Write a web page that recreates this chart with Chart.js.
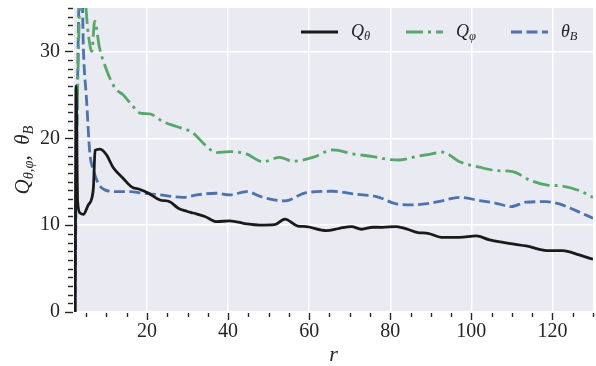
<!DOCTYPE html>
<html lang="en">
<head>
<meta charset="UTF-8">
<title>Q profiles</title>
<script src="https://cdn.jsdelivr.net/npm/chart.js"></script>
<style>
    html, body { margin: 0; padding: 0; background: #fff; }
    canvas { display: block; }
</style>
</head>
<body>
<canvas id="chart" width="596" height="366"></canvas>
<script>
    // values
    const rQtheta = [2.3, 2.5, 2.9, 3.5, 4.3, 5.5, 6.4, 6.8, 7.2, 8.4, 10, 11.7, 14.1, 16.2, 18.3, 20.3, 23.2, 25.6, 27.7, 29.8, 31.4, 34.3, 37.1, 40.4, 44.5, 47.8, 51.5, 54, 57.2, 59.3, 64.2, 67.5, 70.4, 72.9, 75.7, 78, 81.5, 84, 86.8, 89.3, 92.6, 97.1, 101.2, 104.5, 110.2, 113.5, 119.2, 122.5, 126.6, 130];
    const Qtheta  = [0, 26.0, 12.7, 11.4, 11.25, 12.3, 13.1, 14.4, 18.6, 18.75, 18.1, 16.6, 15.4, 14.4, 14.1, 13.7, 12.9, 12.7, 11.95, 11.6, 11.4, 11.0, 10.4, 10.5, 10.15, 10.0, 10.05, 10.7, 9.9, 9.83, 9.37, 9.64, 9.83, 9.53, 9.76, 9.75, 9.83, 9.56, 9.14, 9.06, 8.6, 8.6, 8.76, 8.3, 7.83, 7.6, 7.06, 7.06, 6.57, 6.07];

    const rQphi = [2.3, 3.0, 3.5, 4.5, 5.5, 6.4, 7.1, 8.3, 10, 12.1, 14.1, 16, 18.3, 20.7, 24, 27.3, 31.4, 34.3, 37.1, 40.4, 44.5, 48.6, 52.7, 56, 60.9, 65.9, 70.8, 75.7, 79, 82.3, 86.4, 89.7, 93, 97.1, 102, 106.1, 110.2, 114.3, 118.4, 122.5, 126.6, 130];
    const Qphi  = [10.5, 28, 36, 36.5, 32.1, 30.0, 33.5, 30.4, 27.9, 25.8, 25.0, 24.0, 22.9, 22.8, 21.9, 21.35, 20.6, 19.24, 18.36, 18.47, 18.2, 17.3, 17.8, 17.36, 17.8, 18.66, 18.2, 17.9, 17.6, 17.5, 17.9, 18.16, 18.4, 17.3, 16.67, 16.28, 16.16, 15.2, 14.63, 14.5, 13.97, 13.2];

    const rThetaB = [2.2, 2.7, 3.3, 4.0, 4.3, 5.1, 5.9, 6.75, 8, 9.6, 12.5, 15.8, 19.1, 23.2, 26.5, 28.9, 32.2, 37.1, 40.4, 44.5, 48.6, 54, 59.3, 65.9, 70.8, 75.7, 77.4, 81.5, 85.6, 89.7, 93, 97.1, 102, 106.1, 109.8, 113.5, 118.4, 121.7, 125.8, 130];
    const thetaB  = [0, 20, 36, 36.5, 30.5, 24.4, 18.3, 16.4, 14.8, 14.06, 13.86, 13.86, 13.67, 13.48, 13.28, 13.2, 13.48, 13.67, 13.48, 13.86, 13.2, 12.8, 13.74, 13.9, 13.6, 13.36, 13.17, 12.44, 12.33, 12.52, 12.83, 13.2, 12.83, 12.52, 12.13, 12.64, 12.7, 12.44, 11.67, 10.8];

    const xTicks = [20, 40, 60, 80, 100, 120];
    const yTicks = [0, 10, 20, 30];

    const serif = "'Liberation Serif', 'DejaVu Serif', serif";
    const tickColor = '#262626';

    function pts(xs, ys) {
        return xs.map((x, i) => ({ x: x, y: ys[i] }));
    }

    const series = [
        { data: pts(rQtheta, Qtheta), color: '#1a1a1a', dash: [], label: ['Q', 'θ'] },
        { data: pts(rQphi, Qphi), color: '#55a868', dash: [17, 5, 3, 5], label: ['Q', 'φ'] },
        { data: pts(rThetaB, thetaB), color: '#4c72b0', dash: [11, 4.5], label: ['θ', 'B'] }
    ];

    // draws a run of text pieces: [text, size, italic, dy]
    function drawParts(ctx, parts, x, y) {
        for (const p of parts) {
            ctx.font = (p[2] ? 'italic ' : '') + p[1] + 'px ' + serif;
            ctx.fillText(p[0], x, y + (p[3] || 0));
            x += ctx.measureText(p[0]).width;
        }
        return x;
    }
    function partsWidth(ctx, parts) {
        let w = 0;
        for (const p of parts) {
            ctx.font = (p[2] ? 'italic ' : '') + p[1] + 'px ' + serif;
            w += ctx.measureText(p[0]).width;
        }
        return w;
    }

    const decor = {
        id: 'decor',
        beforeDraw(chart) {
            const a = chart.chartArea, ctx = chart.ctx;
            ctx.save();
            ctx.fillStyle = '#eaeaf2';
            ctx.fillRect(a.left, a.top, a.right - a.left, a.bottom - a.top);
            ctx.restore();
        },
        afterDraw(chart) {
            const a = chart.chartArea, ctx = chart.ctx;
            const xs = chart.scales.x, ys = chart.scales.y;
            ctx.save();
            ctx.strokeStyle = tickColor;
            ctx.lineWidth = 1.4;
            // x ticks, minor every 5
            for (let v = 5; v <= 130; v += 5) {
                const px = Math.round(xs.getPixelForValue(v)) + 0.5;
                const len = v % 20 === 0 ? 7 : 4;
                ctx.beginPath();
                ctx.moveTo(px, a.bottom + 1);
                ctx.lineTo(px, a.bottom + 1 + len);
                ctx.stroke();
            }
            // y ticks, minor every 1
            for (let v = 0; v <= 35; v += 1) {
                const py = Math.round(ys.getPixelForValue(v)) + 0.5;
                const len = v % 10 === 0 ? 8 : 5;
                ctx.beginPath();
                ctx.moveTo(a.left - 1, py);
                ctx.lineTo(a.left - 1 - len, py);
                ctx.stroke();
            }

            // legend
            const ly = 32;
            const starts = [301, 406, 511];
            series.forEach((s, i) => {
                const x0 = starts[i];
                ctx.strokeStyle = s.color;
                ctx.lineWidth = 2.8;
                ctx.setLineDash(s.dash);
                ctx.beginPath();
                ctx.moveTo(x0, ly);
                ctx.lineTo(x0 + 37, ly);
                ctx.stroke();
                ctx.setLineDash([]);
                ctx.fillStyle = tickColor;
                ctx.textBaseline = 'alphabetic';
                drawParts(ctx, [[s.label[0], 18, true, 0], [s.label[1], 12.5, true, 3]], x0 + 50, ly + 5);
            });

            // y title
            ctx.fillStyle = tickColor;
            const yt = [['Q', 21, true, 0], ['θ,φ', 14.5, true, 4], [',  ', 21, false, 0], ['θ', 21, true, 0], ['B', 14.5, true, 4]];
            const w = partsWidth(ctx, yt);
            ctx.translate(29, (a.top + a.bottom) / 2);
            ctx.rotate(-Math.PI / 2);
            drawParts(ctx, yt, -w / 2, 0);
            ctx.restore();

            // x title
            ctx.save();
            ctx.fillStyle = tickColor;
            ctx.textAlign = 'center';
            ctx.font = 'italic 22px ' + serif;
            ctx.fillText('r', (a.left + a.right) / 2, 361);
            ctx.restore();
        }
    };

    new Chart(document.getElementById('chart'), {
        type: 'line',
        data: {
            datasets: series.map(s => ({
                data: s.data,
                borderColor: s.color,
                borderWidth: 2.8,
                borderDash: s.dash,
                pointRadius: 0,
                fill: false,
                cubicInterpolationMode: 'monotone',
                clip: 0
            }))
        },
        options: {
            responsive: false,
            animation: false,
            layout: { padding: { top: 8, right: 3, left: 0, bottom: 0 } },
            plugins: { legend: { display: false }, tooltip: { enabled: false } },
            scales: {
                x: {
                    type: 'linear',
                    min: 2,
                    max: 130,
                    afterBuildTicks: s => { s.ticks = xTicks.map(v => ({ value: v })); },
                    afterFit: s => { s.height = 54; s.paddingLeft = 0; s.paddingRight = 0; },
                    grid: { color: '#ffffff', lineWidth: 1.5, drawTicks: false },
                    border: { display: false },
                    ticks: { color: tickColor, padding: 8, maxRotation: 0, font: { family: serif, size: 20 } }
                },
                y: {
                    min: 0,
                    max: 35,
                    afterBuildTicks: s => { s.ticks = yTicks.map(v => ({ value: v })); },
                    afterFit: s => { s.width = 74; s.paddingTop = 0; s.paddingBottom = 0; },
                    grid: { color: '#ffffff', lineWidth: 1.5, drawTicks: false },
                    border: { display: false },
                    ticks: { color: tickColor, padding: 14, font: { family: serif, size: 20 } }
                }
            }
        },
        plugins: [decor]
    });
</script>
</body>
</html>
